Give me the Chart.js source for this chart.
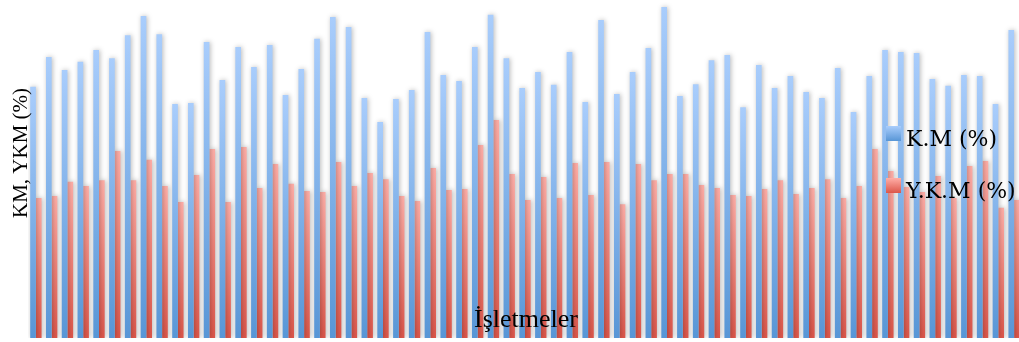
<!DOCTYPE html>
<html>
<head>
<meta charset="utf-8">
<script src="https://cdn.jsdelivr.net/npm/chart.js@4/dist/chart.umd.min.js"></script>
<style>
html,body{margin:0;padding:0;background:#fff;overflow:hidden;width:1019px;height:342px;}
#wrap{position:absolute;left:0;top:0;width:1026px;height:342px;}
</style>
</head>
<body>
<div id="wrap"><canvas id="c" width="1026" height="342"></canvas></div>
<script>
const categories = ["1","2","3","4","5","6","7","8","9","10","11","12","13","14","15","16","17","18","19","20","21","22","23","24","25","26","27","28","29","30","31","32","33","34","35","36","37","38","39","40","41","42","43","44","45","46","47","48","49","50","51","52","53","54","55","56","57","58","59","60","61","62","63"];

const kmValues = [74.3,83.1,79.3,81.7,85.2,82.8,89.6,95.3,89.9,69.2,
  69.5,87.6,76.3,86.1,80.2,86.7,71.9,79.6,88.5,95.0,
  92.0,71.0,63.9,70.7,73.4,90.5,77.8,76.0,86.1,95.6,
  82.8,74.0,78.7,74.9,84.6,69.8,94.1,72.2,78.7,85.8,
  97.9,71.6,75.1,82.2,83.7,68.3,80.8,74.0,77.5,72.8,
  71.0,79.9,66.9,77.5,85.2,84.6,84.3,76.6,74.6,77.8,
  77.5,69.2,91.1];

const ykmValues = [41.4,42.0,46.2,45.0,46.7,55.3,46.7,52.7,45.0,40.2,
  48.2,55.9,40.2,56.5,44.4,51.5,45.6,43.5,43.2,52.1,
  45.0,48.8,47.0,42.0,40.5,50.3,43.8,44.1,57.1,64.5,
  48.5,40.8,47.6,41.4,51.8,42.3,52.1,39.6,51.5,46.7,
  48.5,48.5,45.3,44.4,42.3,42.0,44.1,46.7,42.6,44.4,
  47.0,41.4,45.0,55.9,49.4,44.7,43.2,47.9,41.4,50.9,
  52.4,38.5,40.8];

const seriesLabels = ["K.M (%)", "Y.K.M (%)"];
const xTitle = "İşletmeler";
const yTitle = "KM, YKM (%)";

const BLUE = ["#a9cdfc", "#5896d6"];
const RED = ["#ffaea7", "#dc564a"];

function barGradient(c, cols) {
  const chart = c.chart;
  if (!chart.chartArea || c.type !== 'data') return cols[1];
  const ys = chart.scales.y;
  const v = c.raw;
  const top = ys.getPixelForValue(v);
  const base = ys.getPixelForValue(0);
  if (!isFinite(top) || !isFinite(base) || top === base) return cols[1];
  const g = chart.ctx.createLinearGradient(0, top, 0, base);
  g.addColorStop(0, cols[0]);
  g.addColorStop(1, cols[1]);
  return g;
}

const shadowPlugin = {
  id: 'barShadow',
  beforeDatasetsDraw(chart) {
    const ctx = chart.ctx;
    ctx.save();
    ctx.shadowColor = 'rgba(0,0,0,0.28)';
    ctx.shadowBlur = 5;
    ctx.shadowOffsetX = 1;
    ctx.shadowOffsetY = 0;
  },
  afterDatasetsDraw(chart) {
    chart.ctx.restore();
  }
};

const overlayPlugin = {
  id: 'overlayText',
  afterDatasetsDraw(chart) {
    const ctx = chart.ctx;
    ctx.save();
    const items = [
      {label: seriesLabels[0], cols: BLUE, y: 126},
      {label: seriesLabels[1], cols: RED, y: 178}
    ];
    items.forEach(it => {
      const g = ctx.createLinearGradient(0, it.y, 0, it.y + 15);
      g.addColorStop(0, it.cols[0]);
      g.addColorStop(1, it.cols[1]);
      ctx.fillStyle = g;
      ctx.fillRect(886, it.y, 15, 15);
      ctx.fillStyle = '#000';
      ctx.font = '22px "DejaVu Serif", serif';
      ctx.textBaseline = 'alphabetic';
      ctx.textAlign = 'left';
      ctx.fillText(it.label, 906, it.y + 20);
    });
    ctx.font = '26px "Liberation Serif", "Times New Roman", serif';
    ctx.fillStyle = '#000';
    ctx.textAlign = 'center';
    ctx.fillText(xTitle, 526, 327);
    ctx.translate(27, 153);
    ctx.rotate(-Math.PI / 2);
    ctx.font = '21px "Liberation Serif", "Times New Roman", serif';
    ctx.textAlign = 'center';
    ctx.fillText(yTitle, 0, 0);
    ctx.restore();
  }
};

new Chart(document.getElementById('c'), {
  type: 'bar',
  data: {
    labels: categories,
    datasets: [
      {label: seriesLabels[0], data: kmValues, backgroundColor: c => barGradient(c, BLUE), borderWidth: 0},
      {label: seriesLabels[1], data: ykmValues, backgroundColor: c => barGradient(c, RED), borderWidth: 0}
    ]
  },
  options: {
    responsive: false,
    animation: false,
    layout: {padding: {left: 28, right: 4, top: 0, bottom: 4}},
    datasets: {bar: {categoryPercentage: 0.72, barPercentage: 1.0}},
    plugins: {legend: {display: false}, tooltip: {enabled: false}},
    scales: {
      x: {display: false, grid: {display: false}},
      y: {display: false, min: 0, max: 100, grid: {display: false}}
    }
  },
  plugins: [shadowPlugin, overlayPlugin]
});
</script>
</body>
</html>
